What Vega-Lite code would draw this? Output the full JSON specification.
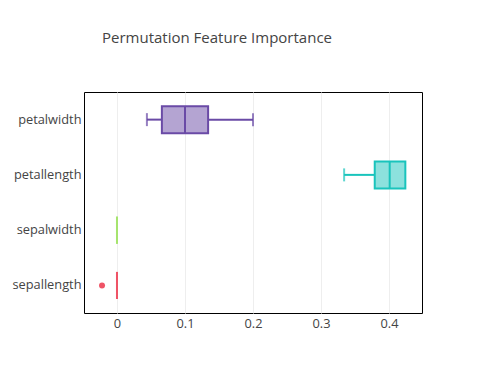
{
  "$schema": "https://vega.github.io/schema/vega-lite/v6.json",
  "width": 338,
  "height": 221,
  "autosize": {"type": "none"},
  "padding": {"left": 84, "top": 92, "right": 70, "bottom": 74},
  "background": "white",
  "config": {
    "view": {"stroke": "black", "strokeWidth": 1},
    "font": "Open Sans",
    "axis": {"labelFont": "Open Sans", "labelFontSize": 12.8, "labelColor": "#444"}
  },
  "title": {
    "text": "Permutation Feature Importance",
    "anchor": "start",
    "frame": "group",
    "dx": 18,
    "offset": 46,
    "fontSize": 15,
    "fontWeight": "normal",
    "color": "#444",
    "font": "Open Sans"
  },
  "datasets": {
    "boxes": [
      {"feature": "petalwidth", "lo": 0.044, "q1": 0.066, "med": 0.1, "q3": 0.134, "hi": 0.2},
      {"feature": "petallength", "lo": 0.334, "q1": 0.379, "med": 0.401, "q3": 0.424, "hi": 0.424},
      {"feature": "sepalwidth", "lo": 0, "q1": 0, "med": 0, "q3": 0, "hi": 0},
      {"feature": "sepallength", "lo": 0, "q1": 0, "med": 0, "q3": 0, "hi": 0}
    ],
    "outliers": [
      {"feature": "sepallength", "value": -0.022}
    ]
  },
  "encoding": {
    "y": {
      "field": "feature",
      "type": "nominal",
      "sort": ["petalwidth", "petallength", "sepalwidth", "sepallength"],
      "scale": {"domain": ["petalwidth", "petallength", "sepalwidth", "sepallength"]},
      "axis": {"title": null, "ticks": false, "domain": false, "grid": false, "labelPadding": 3}
    },
    "color": {
      "field": "feature",
      "type": "nominal",
      "scale": {
        "domain": ["petalwidth", "petallength", "sepalwidth", "sepallength"],
        "range": ["#6a4aa6", "#19c4bc", "#a6e46e", "#ef5366"]
      },
      "legend": null
    }
  },
  "layer": [
    {
      "data": {"name": "boxes"},
      "mark": {"type": "rule", "strokeWidth": 2},
      "encoding": {
        "x": {
          "field": "lo",
          "type": "quantitative",
          "scale": {"domain": [-0.0485, 0.4485], "nice": false, "zero": false},
          "axis": {
            "title": null,
            "values": [0, 0.1, 0.2, 0.3, 0.4],
            "format": "~g",
            "ticks": false,
            "domain": false,
            "grid": true,
            "gridColor": "#eeeeee",
            "gridWidth": 1,
            "labelPadding": 4
          }
        },
        "x2": {"field": "q1"}
      }
    },
    {
      "data": {"name": "boxes"},
      "mark": {"type": "rule", "strokeWidth": 2},
      "encoding": {
        "x": {"field": "q3", "type": "quantitative"},
        "x2": {"field": "hi"}
      }
    },
    {
      "data": {"name": "boxes"},
      "transform": [{"filter": "datum.hi > datum.q3 || datum.lo < datum.q1"}],
      "mark": {"type": "tick", "thickness": 2, "size": 13},
      "encoding": {
        "x": {"field": "lo", "type": "quantitative"}
      }
    },
    {
      "data": {"name": "boxes"},
      "transform": [{"filter": "datum.hi > datum.q3"}],
      "mark": {"type": "tick", "thickness": 2, "size": 13},
      "encoding": {
        "x": {"field": "hi", "type": "quantitative"}
      }
    },
    {
      "data": {"name": "boxes"},
      "mark": {"type": "bar", "size": 27, "fillOpacity": 0.5, "strokeWidth": 2},
      "encoding": {
        "x": {"field": "q1", "type": "quantitative"},
        "x2": {"field": "q3"},
        "stroke": {
          "field": "feature",
          "type": "nominal",
          "scale": {
            "domain": ["petalwidth", "petallength", "sepalwidth", "sepallength"],
            "range": ["#6a4aa6", "#19c4bc", "#a6e46e", "#ef5366"]
          },
          "legend": null
        }
      }
    },
    {
      "data": {"name": "boxes"},
      "mark": {"type": "tick", "thickness": 2, "size": 27, "opacity": 1},
      "encoding": {
        "x": {"field": "med", "type": "quantitative"}
      }
    },
    {
      "data": {"name": "outliers"},
      "mark": {"type": "circle", "size": 36, "opacity": 1},
      "encoding": {
        "x": {"field": "value", "type": "quantitative"}
      }
    }
  ]
}
